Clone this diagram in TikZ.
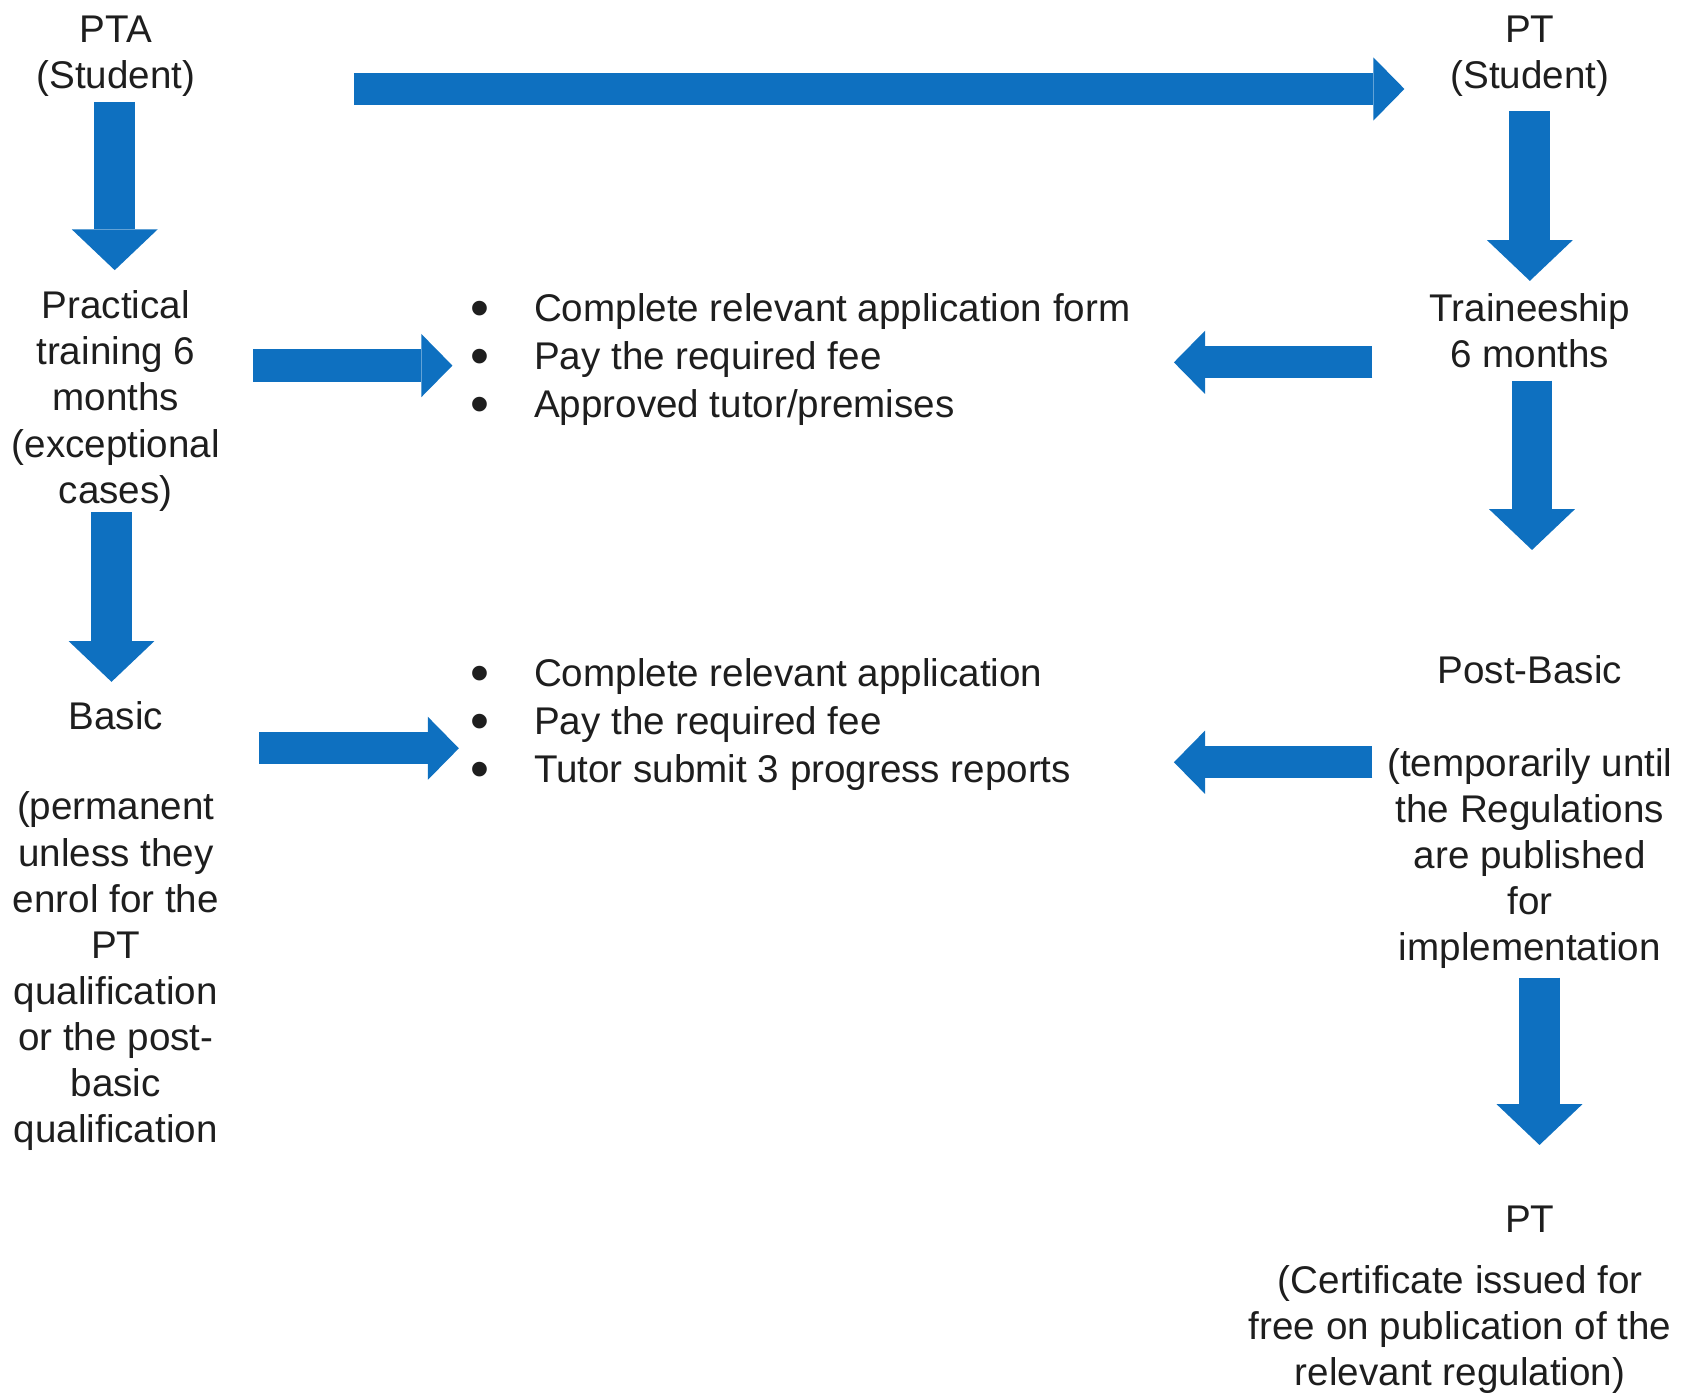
\documentclass[tikz,border=0pt]{standalone}
\usepackage{fontspec}
\setmainfont{Liberation Sans}
\usetikzlibrary{arrows.meta}
\definecolor{arrowblue}{RGB}{14,112,192}
\definecolor{txt}{RGB}{30,30,30}
\tikzset{
  lbl/.style={align=center, inner sep=0pt, text=txt, font=\fontsize{36pt}{43pt}\selectfont},
  blist/.style={align=left, inner sep=0pt, text=txt, anchor=west, font=\fontsize{36pt}{44.5pt}\selectfont},
  blkv/.style={draw=arrowblue, line width=38pt, -{Triangle[length=38pt,width=80pt,line width=0pt]}},
  blkh/.style={draw=arrowblue, line width=30pt, -{Triangle[length=29pt,width=59pt,line width=0pt]}},
}
\newcommand{\bul}{\makebox[59pt][l]{\smash{\raisebox{-4.5pt}{\scalebox{1.4}{•}}}}}
\begin{document}
\begin{tikzpicture}[x=1pt,y=-1pt]
\useasboundingbox (0,0) rectangle (1568,1303);
% text nodes
\node[lbl] (pta) at (108,52.5) {PTA\\(Student)};
\node[lbl] (prac) at (108,374) {Practical\\training 6\\months\\(exceptional\\cases)};
\node[lbl] (basic) at (108,668) {Basic};
\node[lbl] (perm) at (108,906) {(permanent\\unless they\\enrol for the\\PT\\qualification\\or the post-\\basic\\qualification};
\node[lbl] (pts) at (1427,52.5) {PT\\(Student)};
\node[lbl] (trainee) at (1427,308.5) {Traineeship\\6 months};
\node[lbl] (postb) at (1427,625) {Post-Basic};
\node[lbl] (temp) at (1427,801) {(temporarily until\\the Regulations\\are published\\for\\implementation};
\node[lbl] (ptf) at (1427,1137) {PT};
\node[lbl] (cert) at (1362,1240) {(Certificate issued for\\free on publication of the\\relevant regulation)};
\node[blist] (list1) at (439,335.5) {\bul Complete relevant application form\\\bul Pay the required fee\\\bul Approved tutor/premises};
\node[blist] (list2) at (439,676) {\bul Complete relevant application\\\bul Pay the required fee\\\bul Tutor submit 3 progress reports};
% arrow end points
\coordinate (a1s) at (107,95);   \coordinate (a1e) at (107,252);
\coordinate (a2s) at (104,478);  \coordinate (a2e) at (104,636);
\coordinate (a3s) at (236,341);  \coordinate (a3e) at (422,341);
\coordinate (a4s) at (242,698);  \coordinate (a4e) at (428,698);
\coordinate (a5s) at (330,83);   \coordinate (a5e) at (1310,83);
\coordinate (a6s) at (1427,104); \coordinate (a6e) at (1427,262);
\coordinate (a7s) at (1429,355); \coordinate (a7e) at (1429,513);
\coordinate (a8s) at (1280,338); \coordinate (a8e) at (1095,338);
\coordinate (a9s) at (1280,711); \coordinate (a9e) at (1095,711);
\coordinate (a10s) at (1436,912); \coordinate (a10e) at (1436,1068);
\draw[blkv] (a1s) -- (a1e);
\draw[blkv] (a2s) -- (a2e);
\draw[blkh] (a3s) -- (a3e);
\draw[blkh] (a4s) -- (a4e);
\draw[blkh] (a5s) -- (a5e);
\draw[blkv] (a6s) -- (a6e);
\draw[blkv] (a7s) -- (a7e);
\draw[blkh] (a8s) -- (a8e);
\draw[blkh] (a9s) -- (a9e);
\draw[blkv] (a10s) -- (a10e);
\end{tikzpicture}
\end{document}
